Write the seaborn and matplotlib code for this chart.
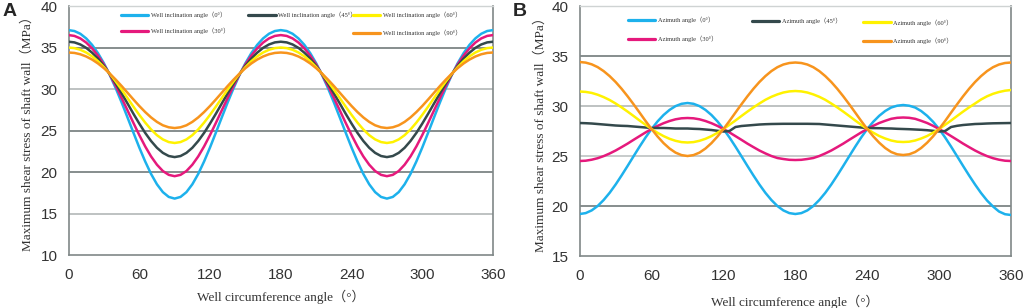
import numpy as np
import pandas as pd
import matplotlib
matplotlib.use("Agg")
import matplotlib.pyplot as plt
from matplotlib.lines import Line2D
from matplotlib.legend import Legend
import seaborn as sns

# ---------------- data ----------------
angles = list(range(0, 361, 5))

# Panel A: well inclination angle series
A_labels = ["Well inclination angle（0°）", "Well inclination angle（30°）",
            "Well inclination angle（45°）", "Well inclination angle（60°）",
            "Well inclination angle（90°）"]
A_0 = [37.10, 36.99, 36.66, 36.10, 35.32, 34.32, 33.11, 31.70, 30.11, 28.40, 26.59, 24.76, 22.96, 21.28, 19.77, 18.52, 17.58, 17.00, 16.80,
       17.00, 17.58, 18.52, 19.77, 21.28, 22.96, 24.76, 26.59, 28.40, 30.11, 31.70, 33.11, 34.32, 35.32, 36.10, 36.66, 36.99, 37.10,
       36.99, 36.66, 36.10, 35.32, 34.32, 33.11, 31.70, 30.11, 28.40, 26.59, 24.76, 22.96, 21.28, 19.77, 18.52, 17.58, 17.00, 16.80,
       17.00, 17.58, 18.52, 19.77, 21.28, 22.96, 24.76, 26.59, 28.40, 30.11, 31.70, 33.11, 34.32, 35.32, 36.10, 36.66, 36.99, 37.10]
A_30 = [36.50, 36.40, 36.10, 35.60, 34.90, 34.02, 32.96, 31.74, 30.39, 28.94, 27.44, 25.93, 24.46, 23.09, 21.88, 20.88, 20.12, 19.66, 19.50,
        19.66, 20.12, 20.88, 21.88, 23.09, 24.46, 25.93, 27.44, 28.94, 30.39, 31.74, 32.96, 34.02, 34.90, 35.60, 36.10, 36.40, 36.50,
        36.40, 36.10, 35.60, 34.90, 34.02, 32.96, 31.74, 30.39, 28.94, 27.44, 25.93, 24.46, 23.09, 21.88, 20.88, 20.12, 19.66, 19.50,
        19.66, 20.12, 20.88, 21.88, 23.09, 24.46, 25.93, 27.44, 28.94, 30.39, 31.74, 32.96, 34.02, 34.90, 35.60, 36.10, 36.40, 36.50]
A_45 = [35.70, 35.62, 35.37, 34.96, 34.38, 33.66, 32.79, 31.79, 30.68, 29.50, 28.27, 27.03, 25.84, 24.72, 23.74, 22.92, 22.31, 21.93, 21.80,
        21.93, 22.31, 22.92, 23.74, 24.72, 25.84, 27.03, 28.27, 29.50, 30.68, 31.79, 32.79, 33.66, 34.38, 34.96, 35.37, 35.62, 35.70,
        35.62, 35.37, 34.96, 34.38, 33.66, 32.79, 31.79, 30.68, 29.50, 28.27, 27.03, 25.84, 24.72, 23.74, 22.92, 22.31, 21.93, 21.80,
        21.93, 22.31, 22.92, 23.74, 24.72, 25.84, 27.03, 28.27, 29.50, 30.68, 31.79, 32.79, 33.66, 34.38, 34.96, 35.37, 35.62, 35.70]
A_60 = [35.00, 34.93, 34.73, 34.40, 33.94, 33.35, 32.64, 31.83, 30.92, 29.94, 28.92, 27.89, 26.89, 25.96, 25.13, 24.44, 23.93, 23.61, 23.50,
        23.61, 23.93, 24.44, 25.13, 25.96, 26.89, 27.89, 28.92, 29.94, 30.92, 31.83, 32.64, 33.35, 33.94, 34.40, 34.73, 34.93, 35.00,
        34.93, 34.73, 34.40, 33.94, 33.35, 32.64, 31.83, 30.92, 29.94, 28.92, 27.89, 26.89, 25.96, 25.13, 24.44, 23.93, 23.61, 23.50,
        23.61, 23.93, 24.44, 25.13, 25.96, 26.89, 27.89, 28.92, 29.94, 30.92, 31.83, 32.64, 33.35, 33.94, 34.40, 34.73, 34.93, 35.00]
A_90 = [34.40, 34.35, 34.19, 33.92, 33.55, 33.08, 32.51, 31.86, 31.14, 30.37, 29.56, 28.75, 27.96, 27.23, 26.58, 26.04, 25.63, 25.39, 25.30,
        25.39, 25.63, 26.04, 26.58, 27.23, 27.96, 28.75, 29.56, 30.37, 31.14, 31.86, 32.51, 33.08, 33.55, 33.92, 34.19, 34.35, 34.40,
        34.35, 34.19, 33.92, 33.55, 33.08, 32.51, 31.86, 31.14, 30.37, 29.56, 28.75, 27.96, 27.23, 26.58, 26.04, 25.63, 25.39, 25.30,
        25.39, 25.63, 26.04, 26.58, 27.23, 27.96, 28.75, 29.56, 30.37, 31.14, 31.86, 32.51, 33.08, 33.55, 33.92, 34.19, 34.35, 34.40]

# Panel B: azimuth angle series
B_labels = ["Azimuth angle（0°）", "Azimuth angle（30°）", "Azimuth angle（45°）",
            "Azimuth angle（60°）", "Azimuth angle（90°）"]
B_0 = [19.20, 19.29, 19.56, 20.00, 20.60, 21.32, 22.15, 23.06, 24.01, 24.98, 25.94, 26.86, 27.70, 28.46, 29.10, 29.61, 29.99, 30.22, 30.30,
       30.22, 29.99, 29.61, 29.10, 28.46, 27.70, 26.86, 25.94, 24.98, 24.01, 23.06, 22.15, 21.32, 20.60, 20.00, 19.56, 19.29, 19.20,
       19.29, 19.56, 20.00, 20.60, 21.32, 22.15, 23.06, 24.01, 24.98, 25.94, 26.86, 27.70, 28.42, 29.02, 29.50, 29.85, 30.03, 30.10,
       30.03, 29.85, 29.50, 29.02, 28.42, 27.70, 26.86, 25.94, 24.98, 24.01, 23.06, 22.15, 21.30, 20.55, 19.95, 19.45, 19.18, 19.10]
B_30 = [24.50, 24.53, 24.63, 24.78, 24.99, 25.25, 25.55, 25.89, 26.24, 26.62, 26.99, 27.36, 27.70, 28.01, 28.28, 28.50, 28.67, 28.77, 28.80,
        28.77, 28.67, 28.50, 28.28, 28.01, 27.70, 27.36, 26.99, 26.62, 26.24, 25.89, 25.55, 25.26, 25.00, 24.80, 24.70, 24.62, 24.60,
        24.62, 24.70, 24.80, 25.00, 25.26, 25.55, 25.89, 26.24, 26.62, 26.99, 27.36, 27.70, 28.02, 28.30, 28.52, 28.72, 28.82, 28.85,
        28.82, 28.72, 28.52, 28.30, 28.02, 27.70, 27.36, 26.99, 26.62, 26.24, 25.89, 25.55, 25.25, 24.99, 24.78, 24.63, 24.53, 24.50]
B_45 = [28.30, 28.28, 28.25, 28.20, 28.15, 28.10, 28.05, 28.02, 28.00, 27.95, 27.90, 27.85, 27.80, 27.80, 27.80, 27.78, 27.75, 27.75, 27.75,
        27.72, 27.70, 27.65, 27.60, 27.52, 27.45, 27.50, 27.90, 28.00, 28.05, 28.10, 28.15, 28.18, 28.20, 28.21, 28.22, 28.22, 28.22,
        28.22, 28.22, 28.21, 28.20, 28.15, 28.10, 28.05, 28.00, 27.95, 27.90, 27.85, 27.80, 27.79, 27.78, 27.76, 27.75, 27.72, 27.70,
        27.68, 27.65, 27.62, 27.58, 27.52, 27.45, 27.50, 27.90, 28.02, 28.10, 28.15, 28.20, 28.22, 28.25, 28.27, 28.28, 28.29, 28.30]
B_60 = [31.45, 31.41, 31.31, 31.13, 30.89, 30.60, 30.25, 29.86, 29.44, 29.00, 28.55, 28.12, 27.70, 27.32, 26.99, 26.72, 26.52, 26.39, 26.35,
        26.39, 26.52, 26.72, 26.99, 27.32, 27.70, 28.12, 28.55, 29.00, 29.44, 29.86, 30.25, 30.62, 30.92, 31.16, 31.35, 31.46, 31.50,
        31.46, 31.35, 31.16, 30.92, 30.62, 30.25, 29.86, 29.44, 29.00, 28.55, 28.12, 27.70, 27.33, 27.00, 26.75, 26.55, 26.43, 26.40,
        26.43, 26.55, 26.75, 27.00, 27.33, 27.70, 28.12, 28.55, 29.00, 29.44, 29.86, 30.25, 30.65, 30.97, 31.22, 31.40, 31.53, 31.60]
B_90 = [34.40, 34.34, 34.17, 33.89, 33.49, 32.99, 32.40, 31.72, 30.97, 30.17, 29.34, 28.50, 27.70, 26.95, 26.29, 25.75, 25.34, 25.09, 25.00,
        25.09, 25.34, 25.75, 26.29, 26.95, 27.70, 28.50, 29.34, 30.17, 30.97, 31.72, 32.40, 32.99, 33.49, 33.88, 34.15, 34.30, 34.35,
        34.30, 34.15, 33.88, 33.49, 32.99, 32.40, 31.72, 30.97, 30.17, 29.34, 28.50, 27.70, 26.97, 26.33, 25.80, 25.40, 25.17, 25.10,
        25.17, 25.40, 25.80, 26.33, 26.97, 27.70, 28.50, 29.34, 30.17, 30.97, 31.72, 32.40, 32.99, 33.49, 33.88, 34.15, 34.30, 34.35]

x_ticks = [0, 60, 120, 180, 240, 300, 360]
A_yticks = [10, 15, 20, 25, 30, 35, 40]
B_yticks = [15, 20, 25, 30, 35, 40]

colors = ["#1db1ec", "#e5197c", "#34494c", "#fff200", "#f7941d"]

# ---------------- style ----------------
sns.set_theme(style="white")
plt.rcParams["font.family"] = ["Liberation Sans", "DejaVu Sans"]
SERIF = ["Liberation Serif", "Noto Sans CJK SC", "DejaVu Serif"]

fig = plt.figure(figsize=(10.24, 3.08), dpi=100)
axA = fig.add_axes([0.0669, 0.172, 0.4146, 0.8084])
axB = fig.add_axes([0.5661, 0.1688, 0.4212, 0.8117])


def long_df(labels, series):
    frames = []
    for lab, vals in zip(labels, series):
        frames.append(pd.DataFrame({"angle": angles, "stress": vals, "series": lab}))
    return pd.concat(frames, ignore_index=True)


dfA = long_df(A_labels, [A_0, A_30, A_45, A_60, A_90])
dfB = long_df(B_labels, [B_0, B_30, B_45, B_60, B_90])


def style_axes(ax, yticks, grid_cols, ylabelpad, xlabelpad):
    ax.set_xlim(0, 360)
    ax.set_ylim(yticks[0], yticks[-1])
    ax.set_xticks(x_ticks)
    ax.set_yticks(yticks)
    for yv, col in grid_cols.items():
        ax.axhline(yv, color=col, lw=1.3, zorder=0.5)
    for side in ["left", "bottom", "right"]:
        ax.spines[side].set_visible(True)
        ax.spines[side].set_color("#808888")
        ax.spines[side].set_linewidth(1.2)
    ax.spines["top"].set_visible(True)
    ax.spines["top"].set_color("#cfd3d3")
    ax.spines["top"].set_linewidth(1.0)
    ax.tick_params(axis="x", direction="in", length=3.5, width=0.9, color="#808888",
                   pad=9, labelsize=11, labelcolor="#333333")
    ax.tick_params(axis="y", length=0, pad=8, labelsize=11, labelcolor="#333333")
    ax.set_xlabel("Well circumference angle（°）", fontsize=9.5, family=SERIF,
                  color="#333333", labelpad=xlabelpad)
    ax.set_ylabel("Maximum shear stress of shaft wall（MPa）", fontsize=9.5,
                  family=SERIF, color="#333333", labelpad=ylabelpad)


def draw(ax, df, labels):
    sns.lineplot(data=df, x="angle", y="stress", hue="series", hue_order=labels,
                 palette=dict(zip(labels, colors)), ax=ax, legend=False,
                 linewidth=1.8, estimator=None, sort=False, zorder=3)


def col_legend(ax, idx, labels, x, y, spacing):
    handles = [Line2D([], [], color=colors[i], lw=2.3) for i in idx]
    leg = Legend(ax, handles, [labels[i] for i in idx],
                 loc="upper left", bbox_to_anchor=(x, y), frameon=False,
                 prop={"family": SERIF, "size": 4.6}, handlelength=4.3,
                 handletextpad=0.45, labelspacing=spacing, borderpad=0,
                 borderaxespad=0, labelcolor="#333333")
    ax.add_artist(leg)


draw(axA, dfA, A_labels)
draw(axB, dfB, B_labels)

style_axes(axA, A_yticks, {15: "#b9bdbd", 20: "#7d8585", 25: "#7d8585",
                           30: "#b9bdbd", 35: "#7d8585"}, 5, 6)
style_axes(axB, B_yticks, {20: "#7d8585", 25: "#c3c7c7", 30: "#b9bdbd",
                           35: "#7d8585"}, 3.5, 9)

col_legend(axA, [0, 1], A_labels, 0.1237, 0.976, 1.4)
col_legend(axA, [2], A_labels, 0.4229, 0.976, 1.4)
col_legend(axA, [3, 4], A_labels, 0.670, 0.976, 1.75)

col_legend(axB, [0, 1], B_labels, 0.112, 0.956, 1.95)
col_legend(axB, [2], B_labels, 0.3995, 0.952, 1.9)
col_legend(axB, [3, 4], B_labels, 0.657, 0.947, 1.85)

fig.text(0.002, 0.99, "A", fontsize=14, fontweight="bold", va="top", ha="left",
         family=["Liberation Sans"])
fig.text(0.501, 0.99, "B", fontsize=14, fontweight="bold", va="top", ha="left",
         family=["Liberation Sans"])

fig.savefig("out.png", dpi=100)
